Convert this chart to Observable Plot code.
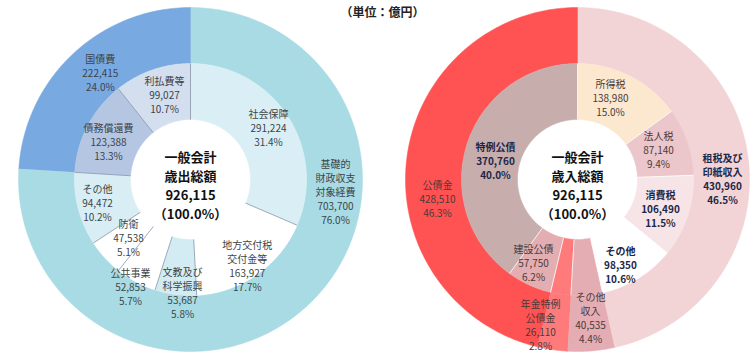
<!DOCTYPE html>
<html><head><meta charset="utf-8">
<script src="https://cdn.jsdelivr.net/npm/d3@7"></script>
<script src="https://cdn.jsdelivr.net/npm/@observablehq/plot@0.6"></script>
<style>body{margin:0;background:#fff}</style>
</head><body><div id="chart"></div>
<script>
// ---- data ----
const unitLabel = "（単位：億円）";
const totalValue = 926115;
const centerText = ["一般会計\n歳出総額", "一般会計\n歳入総額"];
const expOuterNames = ["基礎的\n財政収支\n対象経費", "国債費"];
const expOuterValues = [703700, 222415];
const expInnerNames = ["社会保障", "地方交付税\n交付金等", "文教及び\n科学振興", "公共事業", "防衛", "その他", "債務償還費", "利払費等"];
const expInnerValues = [291224, 163927, 53687, 52853, 47538, 94472, 123388, 99027];
const revOuterNames = ["租税及び\n印紙収入", "その他\n収入", "年金特例\n公債金", "公債金"];
const revOuterValues = [430960, 40535, 26110, 428510];
const revInnerNames = ["所得税", "法人税", "消費税", "その他", "その他収入", "年金特例公債金", "建設公債", "特例公債"];
const revInnerValues = [138980, 87140, 106490, 98350, 40535, 26110, 57750, 370760];

// ---- styles / layout ----
const fills = {
  expOuter: ["#a9dbe4", "#78a9e0"],
  expInner: ["#d9eff5", "#ffffff", "#d3ecf3", "#ffffff", "#ffffff", "#d9eef4", "#b5c6e3", "#d3deee"],
  revOuter: ["#f2d3d6", "#e4adb3", "#ff7a7a", "#ff5252"],
  revInner: ["#fce7cf", "#ebc6cb", "#f6e4e6", "#ffffff", "#e4adb3", "#ff7a7a", "#e2aeb2", "#c8adad"]
};
// label placement: [angle (deg, clockwise from top), radius, bold]
const place = {
  expOuter: [[94.7, 145.5, 0], [319.9, 140, 0]],
  expInner: [[56.3, 93.7, 0], [146.5, 103, 0], [184, 113, 0], [209.3, 122.7, 0], [226.9, 84.9, 0], [256.1, 95.8, 0], [294.9, 90.4, 0], [343, 88.9, 0]],
  revOuter: [[89.6, 145, 1], [174.6, 138.6, 0], [194.3, 149.6, 0], [262.3, 141.3, 0]],
  revInner: [[21.9, 88.4, 0], [69.7, 86.4, 0], [109.3, 87.9, 1], [153.2, 95.3, 1], null, null, [207.9, 93.9, 0], [283, 84.2, 1]]
};
const centers = [{cx: 190, cy: 179}, {cx: 577, cy: 179}];
const R0 = 60, R1 = 116, R2 = 172;

const rad = d => d * Math.PI / 180;
const polar = (c, a, r) => [c.cx + r * Math.sin(rad(a)), c.cy - r * Math.cos(rad(a))];
const fmt = d3.format(",");
const pct = v => (v / totalValue * 100).toFixed(1) + "%";

function slices(names, values) {
  let acc = 0;
  return names.map((n, i) => {
    const a0 = acc / totalValue * 360; acc += values[i];
    const a1 = acc / totalValue * 360;
    return {name: n, value: values[i], a0, a1, i};
  });
}
const rings = [
  {key: "expOuter", c: centers[0], rIn: R1, rOut: R2, s: slices(expOuterNames, expOuterValues)},
  {key: "expInner", c: centers[0], rIn: R0, rOut: R1, s: slices(expInnerNames, expInnerValues)},
  {key: "revOuter", c: centers[1], rIn: R1, rOut: R2, s: slices(revOuterNames, revOuterValues)},
  {key: "revInner", c: centers[1], rIn: R0, rOut: R1, s: slices(revInnerNames, revInnerValues)}
];
const wedges = [], labels = [], seps = [];
for (const ring of rings) {
  for (const s of ring.s) {
    const id = ring.key + s.i, fill = fills[ring.key][s.i];
    const n = Math.max(2, Math.ceil(s.a1 - s.a0));
    for (let k = 0; k <= n; k++) { const [x, y] = polar(ring.c, s.a0 + (s.a1 - s.a0) * k / n, ring.rOut); wedges.push({id, x, y, fill}); }
    for (let k = n; k >= 0; k--) { const [x, y] = polar(ring.c, s.a0 + (s.a1 - s.a0) * k / n, ring.rIn); wedges.push({id, x, y, fill}); }
    const p = place[ring.key][s.i];
    if (p) {
      const [x, y] = polar(ring.c, p[0], p[1]);
      const isRev = ring.key.startsWith("rev");
      labels.push({x, y, bold: p[2], text: s.name + "\n" + fmt(s.value) + "\n" + pct(s.value),
        color: p[2] ? "#1c2748" : (isRev ? "#4a3a3a" : "#3d4448")});
    }
    if (ring.key === "expInner" || ring.key === "revInner") {
      const [x1, y1] = polar(ring.c, s.a0, ring.rIn), [x2, y2] = polar(ring.c, s.a0, ring.rOut);
      seps.push({x1, y1, x2, y2, color: ring.key === "expInner" ? "#8795a8" : "#ffffff"});
    }
  }
}
const centerLabels = centers.map((c, i) => ({x: c.cx, y: c.cy + 5, text: centerText[i] + "\n" + fmt(totalValue) + "\n（100.0%）"}));

const chart = Plot.plot({
  width: 755, height: 355, margin: 0,
  x: {domain: [0, 755], range: [0, 755], axis: null},
  y: {domain: [0, 355], range: [0, 355], axis: null},
  color: {type: "identity"},
  style: {fontFamily: "'Noto Sans CJK JP', sans-serif", background: "#fff"},
  marks: [
    Plot.line(wedges, {x: "x", y: "y", z: "id", fill: "fill", stroke: "fill", strokeWidth: 0.5, curve: "linear"}),
    Plot.link(seps, {x1: "x1", y1: "y1", x2: "x2", y2: "y2", stroke: "color", strokeWidth: 0.8}),
    Plot.text(labels.filter(d => !d.bold), {x: "x", y: "y", text: "text", fill: "color", fontSize: 10, lineHeight: 1.4}),
    Plot.text(labels.filter(d => d.bold), {x: "x", y: "y", text: "text", fill: "color", fontSize: 10, fontWeight: "bold", lineHeight: 1.4}),
    Plot.text(centerLabels, {x: "x", y: "y", text: "text", fill: "#111", fontSize: 13, fontWeight: "bold", lineHeight: 1.45}),
    Plot.text([unitLabel], {x: () => 382, y: () => 13, text: d => d, fill: "#222", fontSize: 12, fontWeight: "bold"})
  ]
});
document.getElementById("chart").append(chart);
</script>
</body></html>
